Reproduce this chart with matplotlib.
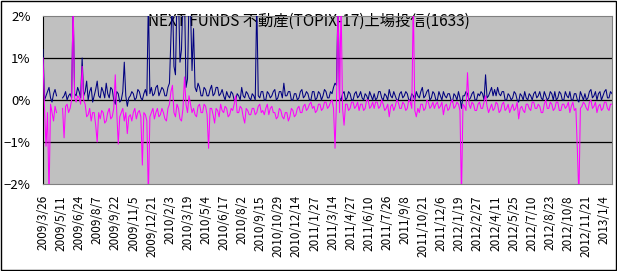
import numpy as np
import matplotlib.pyplot as plt

plt.rcParams['font.family'] = ['Noto Sans CJK JP', 'DejaVu Sans']

nan = np.nan

# 日付ラベル（30営業日ごと）
date_labels = ["2009/3/26", "2009/5/11", "2009/6/24", "2009/8/7", "2009/9/22",
               "2009/11/5", "2009/12/21", "2010/2/3", "2010/3/19", "2010/5/4",
               "2010/6/17", "2010/8/2", "2010/9/15", "2010/10/29", "2010/12/14",
               "2011/1/27", "2011/3/14", "2011/4/27", "2011/6/10", "2011/7/26",
               "2011/9/8", "2011/10/21", "2011/12/6", "2012/1/19", "2012/2/27",
               "2012/4/11", "2012/5/25", "2012/7/10", "2012/8/23", "2012/10/8",
               "2012/11/21", "2013/1/4"]
days_per_label = 30
n_days = 944

# 乖離率 (%) 紺
navy = [1.2, 0.0, 0.1, 0.2, 0.3, 0.05, -0.05, 0.15, 0.25, 0.1, nan, nan, nan, 0.05, 0.1, 0.2, 0.0, 0.1, 0.15, 0.05,
        2.3, 0.15, 0.1, 0.3, 0.2, 0.05, 1.0, 0.1, 0.2, 0.45, 0.0, 0.2, 0.3, -0.05, 0.1, 0.25, 0.45, 0.1, 0.05, 0.3,
        0.2, 0.05, 0.4, 0.15, 0.05, 0.3, 0.25, 0.0, -0.1, 0.2, 0.15, -0.05, 0.0, 0.2, 0.9, 0.1, -0.15, 0.05, 0.1, 0.2,
        0.15, 0.0, 0.05, 0.25, 0.2, 0.05, 0.0, 0.15, 0.25, 0.1, 2.4, 0.15, 0.3, 0.1, 0.15, 0.3, 0.35, 0.1, 0.2, 0.3,
        0.25, 0.1, 0.1, 0.3, 0.4, 1.5, 2.5, 0.8, 0.6, 2.5, 2.5, 0.9, 1.2, 2.5, 2.5, 0.3, 0.5, 2.5, 2.2, 0.7,
        1.7, 0.3, 0.2, 0.4, 0.3, 0.1, 0.1, 0.3, 0.25, 0.1, 0.1, 0.25, 0.35, 0.1, 0.15, 0.3, 0.3, 0.1, 0.15, 0.25,
        0.1, 0.0, 0.2, 0.1, 0.05, 0.2, 0.15, 0.0, 0.0, 0.15, 0.1, 0.0, 0.3, 0.1, 0.05, 0.2, 0.15, 0.05, 0.0, 0.15,
        0.1, 0.0, 2.4, 0.1, 0.05, 0.2, 0.2, 0.0, 0.0, 0.2, 0.15, 0.05, 0.1, 0.2, 0.25, 0.0, 0.05, 0.2, 0.2, 0.05,
        0.4, 0.1, 0.1, 0.2, 0.2, 0.0, 0.0, 0.15, 0.15, 0.0, 0.05, 0.2, 0.25, 0.05, 0.1, 0.2, 0.15, 0.0, 0.0, 0.2,
        0.2, 0.0, 0.05, 0.2, 0.15, 0.0, 0.1, 0.25, 0.2, 0.05, 0.05, 0.2, 0.15, 0.3, 0.4, 0.35, 2.4, 0.05, 0.0, 0.15,
        0.2, 0.0, 0.05, 0.2, 0.15, 0.0, 0.0, 0.15, 0.2, 0.05, 0.1, 0.2, 0.05, 0.0, 0.15, 0.1, 0.0, 0.2, 0.1, 0.0,
        0.15, 0.0, 0.05, 0.2, 0.2, 0.05, 0.0, 0.15, 0.1, 0.0, 0.25, 0.1, 0.05, 0.2, 0.1, 0.0, 0.0, 0.15, 0.2, 0.05,
        0.1, 0.2, 0.15, 0.0, 0.0, 0.15, 0.1, 0.0, 0.2, 0.1, 0.05, 0.2, 0.3, 0.05, 0.1, 0.2, 0.25, 0.0, 0.05, 0.2,
        0.15, 0.0, 0.0, 0.2, 0.1, 0.0, 0.2, 0.1, 0.05, 0.15, 0.15, 0.0, -0.05, 0.15, 0.1, 0.0, 0.2, 0.05, -0.2, 0.1,
        0.1, 0.2, 0.15, 0.0, 0.05, 0.15, 0.2, 0.0, 0.0, 0.15, 0.1, 0.2, 0.15, 0.0, 0.6, 0.05, 0.1, 0.2, 0.3, 0.1,
        0.25, 0.1, 0.3, 0.15, 0.1, 0.2, 0.2, 0.0, 0.0, 0.15, 0.1, 0.0, 0.05, 0.2, 0.15, 0.0, -0.05, 0.15, 0.1, 0.0,
        0.2, 0.05, 0.0, 0.15, 0.1, 0.0, 0.15, 0.2, 0.05, 0.1, 0.2, 0.05, 0.0, 0.2, 0.1, 0.0, 0.05, 0.2, 0.15, 0.0,
        0.2, 0.0, 0.05, 0.2, 0.15, 0.0, 0.0, 0.2, 0.1, 0.05, 0.2, 0.0, 0.0, 0.15, 0.15, 0.0, -0.05, 0.2, 0.1, 0.0,
        0.15, 0.0, 0.05, 0.2, 0.25, 0.05, 0.1, 0.2, 0.0, 0.15, 0.2, 0.0, 0.1, 0.2, 0.25, 0.05, 0.05, 0.2, 0.15]

# 乖離率 (%) マゼンタ
magenta = [1.0, -0.2, -1.1, -0.3, -2.3, -0.1, -0.3, -0.5, -0.15, -0.3, nan, nan, nan, -0.2, -0.9, -0.15, -0.1, -0.3, -0.2, 0.0,
           2.4, 0.05, -0.05, 0.1, 0.05, -0.1, 0.8, 0.0, -0.1, -0.4, -0.35, -0.2, -0.5, -0.3, -0.3, -0.6, -1.0, -0.3, -0.45, -0.25,
           -0.3, -0.55, -0.5, -0.3, -0.2, -0.45, -0.4, -0.2, 0.6, -0.3, -1.05, -0.4, -0.3, -0.2, -0.5, -0.3, -0.8, -0.4, -0.35, -0.5,
           -0.3, -0.2, -0.45, -0.3, -0.25, -0.4, -1.55, -0.3, -0.35, -0.5, -2.3, -0.4, -0.3, -0.2, -0.45, -0.3, -0.2, -0.4, -0.35, -0.2,
           -0.3, -0.45, -0.5, -0.2, -0.1, 0.2, 0.35, -0.3, -0.4, -0.1, -0.2, -0.45, -0.5, -0.2, 0.55, -0.1, -0.3, 0.1, -0.1, -0.3,
           -0.2, -0.35, -0.4, -0.15, -0.1, -0.3, -0.3, -0.1, -0.15, -0.35, -1.15, -0.2, -0.2, -0.35, -0.55, -0.2, -0.25, -0.4, -0.1, -0.25,
           -0.3, -0.15, -0.2, -0.4, -0.35, -0.2, -0.25, -0.1, 0.1, -0.3, -0.3, -0.15, -0.2, -0.4, -0.55, -0.2, -0.25, -0.35, -0.35, -0.2,
           -0.2, -0.35, -0.3, -0.15, -0.1, -0.3, -0.25, -0.35, -0.2, -0.1, -0.35, -0.2, -0.15, -0.3, -0.3, -0.45, -0.4, -0.2, -0.25, -0.4,
           -0.45, -0.3, -0.3, -0.5, -0.4, -0.2, -0.25, -0.4, -0.35, -0.2, -0.15, -0.3, -0.3, -0.15, -0.1, -0.25, -0.2, -0.1, -0.05, -0.2,
           -0.15, -0.3, -0.25, -0.1, -0.1, -0.25, -0.2, -0.05, -0.05, -0.2, -0.15, -0.05, 0.0, -0.2, -1.15, 0.0, 2.4, -0.3, 2.4, -0.2,
           -0.6, -0.1, -0.1, -0.25, -0.2, -0.05, -0.05, -0.2, -0.15, -0.05, -0.25, -0.1, -0.1, -0.25, -0.2, 0.0, 0.0, -0.2, -0.15, -0.05,
           -0.2, -0.05, -0.05, -0.2, -0.15, 0.0, -0.1, -0.25, -0.2, -0.1, -0.4, -0.15, -0.1, -0.25, -0.15, 0.0, -0.05, -0.2, -0.2, -0.05,
           -0.1, -0.25, -0.2, 0.0, -0.05, -0.2, 2.4, -0.25, -0.4, -0.2, -0.3, -0.1, -0.1, -0.25, -0.2, 0.0, -0.05, -0.2, -0.15, -0.05,
           -0.2, -0.1, -0.05, -0.2, -0.15, -0.05, -0.35, -0.15, -0.1, -0.25, -0.2, -0.05, 0.0, -0.2, -0.15, -0.05, -0.1, -0.25, -2.3, -0.1,
           -0.15, -0.25, 0.65, -0.1, -0.2, -0.05, -0.1, -0.25, -0.25, -0.1, -0.05, -0.2, -0.2, -0.05, 0.1, -0.15, -0.3, -0.2, -0.1, -0.25,
           -0.2, -0.05, -0.1, -0.3, -0.25, -0.1, -0.05, -0.25, -0.2, -0.1, -0.3, -0.2, -0.1, -0.25, -0.2, -0.05, -0.45, -0.2, -0.15, -0.25,
           -0.3, -0.1, -0.1, -0.2, -0.25, -0.05, -0.05, -0.2, -0.2, -0.1, -0.15, -0.3, -0.3, -0.1, 0.0, -0.2, -0.2, -0.05, -0.1, -0.25,
           -0.2, -0.05, -0.05, -0.25, -0.25, -0.1, -0.1, -0.2, -0.15, -0.05, -0.3, -0.15, -0.05, -0.25, -0.2, -1.2, -2.3, -0.2, -0.15, -0.05,
           -0.1, -0.2, -0.25, -0.05, 0.0, -0.2, -0.15, -0.05, -0.3, -0.15, -0.1, -0.25, -0.2, -0.05, -0.05, -0.2, -0.25, -0.1, -0.1]

y_ticks = [-2, -1, 0, 1, 2]
y_labels = ["\u22122%", "\u22121%", "0%", "1%", "2%"]

title = "NEXT FUNDS 不動産(TOPIX-17)上場投信(1633)"

fig = plt.figure(figsize=(6.17, 2.71), dpi=100)
ax = fig.add_axes([43/617, 1 - 184/271, 569/617, 168/271])
ax.set_facecolor("#C0C0C0")

ax.plot(np.linspace(0, n_days - 1, len(navy)), navy, color="#000080", lw=0.75, zorder=3)
ax.plot(np.linspace(0, n_days - 1, len(magenta)), magenta, color="#FF00FF", lw=0.75, zorder=4)

for v in [-1, 0, 1]:
    ax.axhline(v, color="black", lw=0.9, zorder=2)

ax.set_xlim(0, n_days - 1)
ax.set_ylim(-2, 2)
ax.set_yticks(y_ticks)
ax.set_yticklabels(y_labels, fontsize=9.5)
ax.set_xticks(np.arange(len(date_labels)) * days_per_label)
ax.set_xticklabels(date_labels, rotation=90, fontsize=8.5)
ax.tick_params(length=0)
ax.tick_params(axis="y", pad=9)
ax.tick_params(axis="x", pad=8)

for s in ["top", "right", "bottom"]:
    ax.spines[s].set_color("#808080")
ax.spines["left"].set_color("black")

ax.text(0.5, 1 - 21/271, title, transform=fig.transFigure, ha="center",
        va="center", fontsize=11, zorder=1)

fig.add_artist(plt.Rectangle((0.001, 0.002), 0.997, 0.995, transform=fig.transFigure,
                             fill=False, edgecolor="black", lw=1))

fig.savefig("out.png", dpi=100)
